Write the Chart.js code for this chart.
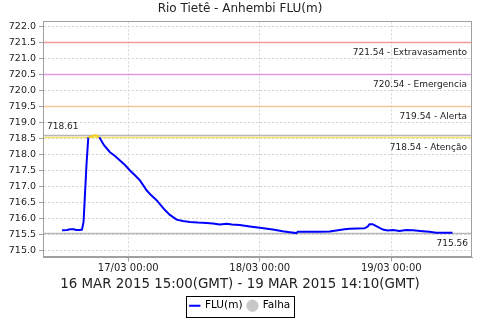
<!DOCTYPE html>
<html>
<head>
<meta charset="utf-8">
<script src="https://cdn.jsdelivr.net/npm/chart.js@4/dist/chart.umd.min.js"></script>
<style>
  html, body { margin: 0; padding: 0; background: #fff; }
  #wrap { width: 480px; height: 320px; }
</style>
</head>
<body>
<div id="wrap"><canvas id="canvas" width="480" height="320"></canvas></div>
<script>
// hours since 16/03 00:00 (local time, GMT-3)
var HOURS = [11.92, 12.83, 13.38, 14.11, 14.47, 15.20, 15.56, 15.84, 16.11, 16.38, 16.71, 17.02, 17.38, 17.81, 18.12, 18.72,
  19.57, 20.67, 21.58, 22.49, 23.40, 24.31, 25.22, 26.13, 27.35, 28.14, 29.17, 29.96, 30.69, 31.60, 32.82, 33.97,
  35.24, 36.70, 38.28, 39.43, 40.71, 41.93, 42.89, 44.35, 46.17, 47.99, 50.36, 52.18, 53.46, 54.68, 54.92, 56.54,
  58.93, 60.75, 61.97, 63.48, 64.39, 67.13, 67.67, 68.03, 68.58, 69.26, 70.46, 71.32, 72.28, 73.50, 74.72, 75.93,
  77.75, 78.97, 80.19, 81.70, 83.17];
var LEVELS = [715.64, 715.65, 715.67, 715.67, 715.65, 715.65, 715.66, 715.90, 716.80, 717.70, 718.55, 718.56, 718.58, 718.61, 718.60, 718.55,
  718.30, 718.08, 717.96, 717.82, 717.68, 717.51, 717.36, 717.20, 716.89, 716.74, 716.58, 716.42, 716.27, 716.12, 715.97, 715.93,
  715.90, 715.88, 715.87, 715.85, 715.82, 715.84, 715.82, 715.80, 715.76, 715.72, 715.66, 715.61, 715.58, 715.55, 715.59, 715.59,
  715.59, 715.60, 715.63, 715.67, 715.69, 715.70, 715.75, 715.83, 715.83, 715.77, 715.66, 715.63, 715.65, 715.62, 715.65, 715.64,
  715.61, 715.59, 715.56, 715.56, 715.56];

var THRESH_VALUES = [721.54, 720.54, 719.54, 718.54];
var THRESH_NAMES = ["Extravasamento", "Emergencia", "Alerta", "Aten\u00e7\u00e3o"];
var THRESH_COLORS = ["#f29a9a", "#e29ae6", "#f5c79a", "#f7e36a"];

var X_TICKS = [24, 48, 72];
var X_TICK_LABELS = ["17/03 00:00", "18/03 00:00", "19/03 00:00"];
var Y_TICKS = [715.0, 715.5, 716.0, 716.5, 717.0, 717.5, 718.0, 718.5, 719.0, 719.5, 720.0, 720.5, 721.0, 721.5, 722.0];

var FONT = "'DejaVu Sans', sans-serif";
var GRID = "#d4d4d4";
var BORDER = "#a0a0a0";

var points = HOURS.map(function(h, i) { return {x: h, y: LEVELS[i]}; });
var maxLevel = Math.max.apply(null, LEVELS);
var lastLevel = LEVELS[LEVELS.length - 1];
var attention = THRESH_VALUES[THRESH_VALUES.length - 1];

/* threshold + max/last lines, plot frame, legend box */
var refLines = {
  id: 'refLines',
  beforeDatasetsDraw: function(chart) {
    var c = chart.ctx, a = chart.chartArea, y = chart.scales.y;
    c.save();
    c.font = "9px " + FONT;
    c.textAlign = 'right';
    c.textBaseline = 'middle';
    for (var i = 0; i < THRESH_VALUES.length; i++) {
      var py = Math.round(y.getPixelForValue(THRESH_VALUES[i])) + 0.5;
      c.strokeStyle = THRESH_COLORS[i];
      c.lineWidth = 1.5;
      c.beginPath(); c.moveTo(a.left, py); c.lineTo(a.right, py); c.stroke();
      c.fillStyle = '#222';
      c.fillText(THRESH_VALUES[i].toFixed(2) + ' - ' + THRESH_NAMES[i], a.right - 5, py + 10);
    }
    // max and last value
    c.strokeStyle = '#b8b8b8';
    c.lineWidth = 1.5;
    var pm = Math.round(y.getPixelForValue(maxLevel)) + 0.5;
    c.beginPath(); c.moveTo(a.left, pm); c.lineTo(a.right, pm); c.stroke();
    var pl = Math.round(y.getPixelForValue(lastLevel)) + 0.5;
    c.beginPath(); c.moveTo(a.left, pl); c.lineTo(a.right, pl); c.stroke();
    c.fillStyle = '#222';
    c.font = "9px " + FONT;
    c.textAlign = 'left';
    c.fillText(maxLevel.toFixed(2), a.left + 4, pm - 9);
    c.textAlign = 'right';
    c.fillText(lastLevel.toFixed(2), a.right - 4, pl + 10);
    c.restore();
  },
  afterDraw: function(chart) {
    var c = chart.ctx, a = chart.chartArea;
    c.save();
    c.strokeStyle = BORDER;
    c.lineWidth = 1;
    c.strokeRect(Math.round(a.left) + 0.5, Math.round(a.top) + 0.5, Math.round(a.right - a.left) - 1, Math.round(a.bottom - a.top) - 1);
    // box around the legend
    var l = chart.legend;
    if (l && l.legendHitBoxes.length) {
      var hb = l.legendHitBoxes;
      var x0 = hb[0].left - 4, x1 = hb[hb.length - 1].left + hb[hb.length - 1].width + 4;
      var y0 = hb[0].top - 5, y1 = hb[0].top + hb[0].height + 5;
      c.strokeStyle = '#000';
      c.strokeRect(Math.round(x0) + 0.5, Math.round(y0) + 0.5, Math.round(x1 - x0), Math.round(y1 - y0));
    }
    c.restore();
  }
};

var ctx = document.getElementById('canvas').getContext('2d');
window.myLine = new Chart(ctx, {
  type: 'line',
  data: {
    datasets: [{
      label: 'FLU(m)',
      data: points,
      borderColor: '#0000ff',
      backgroundColor: '#0000ff',
      borderWidth: 2,
      pointRadius: 0,
      pointStyle: 'line',
      tension: 0,
      segment: {
        borderColor: function(s) {
          return (s.p0.parsed.y >= attention && s.p1.parsed.y >= attention) ? '#f5d020' : '#0000ff';
        }
      }
    }, {
      label: 'Falha',
      data: [],
      borderColor: '#c8c8c8',
      backgroundColor: '#c8c8c8',
      pointStyle: 'circle',
      showLine: false
    }]
  },
  options: {
    responsive: false,
    animation: false,
    layout: { padding: { left: 0, right: 0, top: 0, bottom: -1 } },
    plugins: {
      title: {
        display: true,
        text: 'Rio Tiet\u00ea - Anhembi FLU(m)',
        color: '#222',
        font: { family: FONT, size: 12, weight: 'normal' },
        padding: { top: 2, bottom: 5 }
      },
      subtitle: {
        display: true,
        position: 'bottom',
        weight: 500,
        text: '16 MAR 2015 15:00(GMT) - 19 MAR 2015 14:10(GMT)',
        color: '#222',
        font: { family: FONT, size: 13.4 },
        padding: { top: 1, bottom: 3 }
      },
      legend: {
        position: 'bottom',
        labels: {
          usePointStyle: true,
          boxWidth: 10,
          boxHeight: 8,
          padding: 5,
          color: '#000',
          font: { family: FONT, size: 10.5 }
        }
      },
      tooltip: { enabled: false }
    },
    scales: {
      x: {
        type: 'linear',
        min: 8.44,
        max: 86.73,
        afterBuildTicks: function(s) { s.ticks = X_TICKS.map(function(v) { return {value: v}; }); },
        ticks: {
          autoSkip: false,
          maxRotation: 0,
          color: '#222',
          padding: 1,
          font: { family: FONT, size: 10 },
          callback: function(v) { return X_TICK_LABELS[X_TICKS.indexOf(v)]; }
        },
        grid: { color: GRID, tickColor: BORDER, tickLength: 4, tickBorderDash: [] },
        border: { color: BORDER, dash: [2, 2] }
      },
      y: {
        min: 714.79,
        max: 722.17,
        afterBuildTicks: function(s) { s.ticks = Y_TICKS.map(function(v) { return {value: v}; }); },
        afterFit: function(s) { s.width = 43; },
        ticks: {
          color: '#222',
          padding: 3,
          font: { family: FONT, size: 9.5 },
          callback: function(v) { return v.toFixed(1); }
        },
        grid: { color: GRID, tickColor: BORDER, tickLength: 4, tickBorderDash: [] },
        border: { color: BORDER, dash: [2, 2] }
      },
      // empty right-hand margin so the plot ends where the original does
      yRight: {
        position: 'right',
        display: true,
        ticks: { display: false },
        grid: { display: false, drawTicks: false },
        border: { display: false },
        afterFit: function(s) { s.width = 8; }
      }
    }
  },
  plugins: [refLines]
});
</script>
</body>
</html>
